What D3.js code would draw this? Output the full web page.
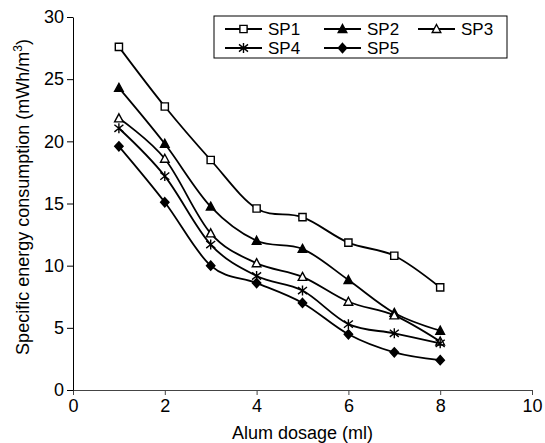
<!DOCTYPE html>
<html>
<head>
<meta charset="utf-8">
<script src="https://cdn.jsdelivr.net/npm/d3@7"></script>
<style>
  body { margin: 0; background: #fff; }
  text { font-family: "Liberation Sans", Arial, sans-serif; fill: #000; }
</style>
</head>
<body>
<div id="vis"></div>
<script>
const FRAME_WIDTH = 545;
const FRAME_HEIGHT = 443;
const MARGINS = {left: 73, right: 13, top: 17, bottom: 53};

// data
const dosage = [1, 2, 3, 4, 5, 6, 7, 8];
const sp1 = [27.6, 22.8, 18.5, 14.6, 13.9, 11.85, 10.8, 8.25];
const sp2 = [24.3, 19.8, 14.75, 12.0, 11.35, 8.85, 6.2, 4.77];
const sp3 = [21.85, 18.6, 12.6, 10.2, 9.1, 7.1, 6.0, 3.9];
const sp4 = [21.05, 17.2, 11.7, 9.17, 8.0, 5.3, 4.56, 3.75];
const sp5 = [19.6, 15.1, 10.0, 8.6, 7.0, 4.48, 3.03, 2.4];
const seriesNames = ['SP1', 'SP2', 'SP3', 'SP4', 'SP5'];
const xTicks = [0, 2, 4, 6, 8, 10];
const yTicks = [0, 5, 10, 15, 20, 25, 30];

const allSeries = [sp1, sp2, sp3, sp4, sp5];

const VIS_WIDTH = FRAME_WIDTH - MARGINS.left - MARGINS.right;
const VIS_HEIGHT = FRAME_HEIGHT - MARGINS.top - MARGINS.bottom;

const FRAME = d3.select('#vis')
  .append('svg')
    .attr('width', FRAME_WIDTH)
    .attr('height', FRAME_HEIGHT);

const X_SCALE = d3.scaleLinear().domain([0, 10]).range([0, VIS_WIDTH]);
const Y_SCALE = d3.scaleLinear().domain([0, 30]).range([VIS_HEIGHT, 0]);

const G = FRAME.append('g')
  .attr('transform', 'translate(' + MARGINS.left + ',' + MARGINS.top + ')');

// axes
const xAxis = G.append('g')
  .attr('transform', 'translate(0,' + VIS_HEIGHT + ')')
  .call(d3.axisBottom(X_SCALE).tickValues(xTicks).tickSizeOuter(0).tickSizeInner(5).tickPadding(4));
xAxis.selectAll('path, line').attr('stroke', '#444').attr('stroke-width', 1);
xAxis.selectAll('text').attr('font-size', '18px').attr('fill', '#000');

const yAxis = G.append('g')
  .call(d3.axisLeft(Y_SCALE).tickValues(yTicks).tickSizeOuter(0).tickSizeInner(6).tickPadding(3));
yAxis.selectAll('path, line').attr('stroke', '#000').attr('stroke-width', 1);
yAxis.selectAll('text').attr('font-size', '18px').attr('fill', '#000');

// axis titles
FRAME.append('text')
  .attr('x', MARGINS.left + VIS_WIDTH / 2)
  .attr('y', 439)
  .attr('text-anchor', 'middle')
  .attr('font-size', '18px')
  .text('Alum dosage (ml)');

const yTitle = FRAME.append('text')
  .attr('transform', 'translate(29,' + 197 + ') rotate(-90)')
  .attr('text-anchor', 'middle')
  .attr('font-size', '18px');
yTitle.append('tspan').text('Specific energy consumption (mWh/m');
yTitle.append('tspan').attr('font-size', '12px').attr('dy', -7).text('3');
yTitle.append('tspan').attr('dy', 7).text(')');

// markers
const starPath = (s) => {
  const r = s / 2;
  return 'M' + (-r) + ',' + (-r * 0.8) + 'L' + r + ',' + (r * 0.8) +
         'M' + (-r) + ',' + (r * 0.8) + 'L' + r + ',' + (-r * 0.8) +
         'M0,' + (-r * 1.1) + 'L0,' + (r * 1.1);
};
const trianglePath = 'M0,-4.5L4.3,3.5L-4.3,3.5Z';
const diamondPath = 'M0,-4.6L4.2,0L0,4.6L-4.2,0Z';
const markers = [
  {d: d3.symbol(d3.symbolSquare, 52)(), fill: '#fff'},
  {d: trianglePath, fill: '#000'},
  {d: trianglePath, fill: '#fff'},
  {d: starPath(9), fill: 'none'},
  {d: diamondPath, fill: '#000'}
];

const line = d3.line()
  .x((d, i) => X_SCALE(dosage[i]))
  .y((d) => Y_SCALE(d))
  .curve(d3.curveCatmullRom.alpha(0));

allSeries.forEach((vals, k) => {
  G.append('path')
    .datum(vals)
    .attr('d', line)
    .attr('fill', 'none')
    .attr('stroke', '#000')
    .attr('stroke-width', 1.8);

  G.selectAll('.m' + k)
    .data(vals)
    .enter()
    .append('path')
      .attr('class', 'm' + k)
      .attr('transform', (d, i) => 'translate(' + X_SCALE(dosage[i]) + ',' + Y_SCALE(d) + ')')
      .attr('d', markers[k].d)
      .attr('fill', markers[k].fill)
      .attr('stroke', '#000')
      .attr('stroke-width', 1.4);
});

// legend
const LEG = FRAME.append('g').attr('transform', 'translate(214,16)');
LEG.append('rect')
  .attr('width', 293).attr('height', 42)
  .attr('fill', '#fff').attr('stroke', '#000').attr('stroke-width', 1);

const legendPos = [[11, 13], [110, 13], [204, 13], [11, 32], [110, 32]];
seriesNames.forEach((name, k) => {
  const [lx, ly] = legendPos[k];
  const item = LEG.append('g').attr('transform', 'translate(' + lx + ',' + ly + ')');
  item.append('line')
    .attr('x1', 0).attr('x2', 37).attr('y1', 0).attr('y2', 0)
    .attr('stroke', '#000').attr('stroke-width', 1.8);
  item.append('path')
    .attr('transform', 'translate(18.5,0)')
    .attr('d', markers[k].d)
    .attr('fill', markers[k].fill)
    .attr('stroke', '#000')
    .attr('stroke-width', 1.4);
  item.append('text')
    .attr('x', 43).attr('y', 6)
    .attr('font-size', '17px')
    .text(name);
});
</script>
</body>
</html>
